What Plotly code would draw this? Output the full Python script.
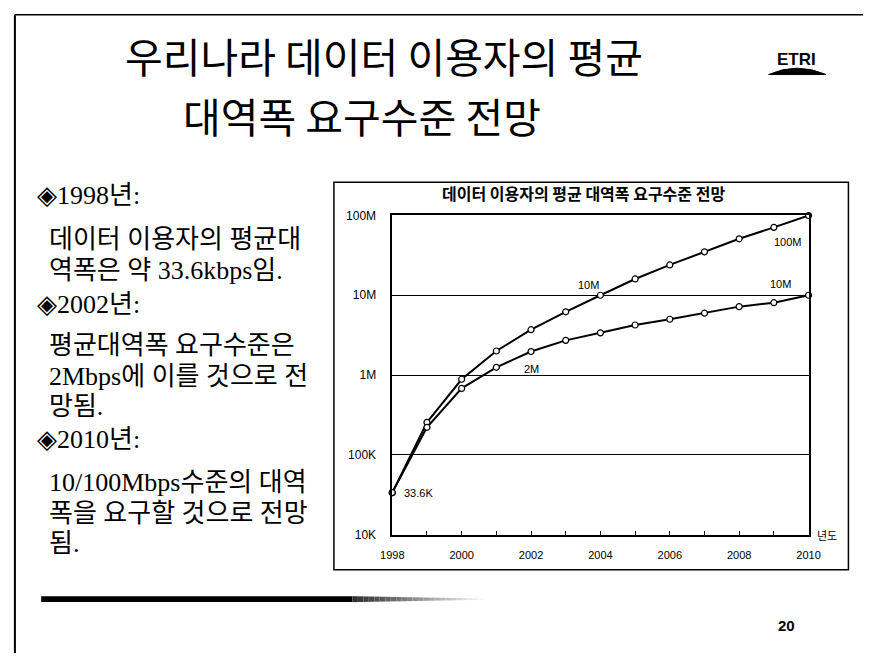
import math
import plotly.graph_objects as go

# ---- data ----
years = list(range(1998, 2011))
high_demand = [33.6e3, 255e3, 885e3, 2.0e6, 3.7e6, 6.2e6, 10e6, 16e6, 24e6, 35e6, 51e6, 71e6, 100e6]
low_demand = [33.6e3, 221e3, 680e3, 1.25e6, 1.97e6, 2.72e6, 3.38e6, 4.24e6, 5.0e6, 5.96e6, 7.2e6, 8.06e6, 10e6]
y_tickvals = [1e4, 1e5, 1e6, 1e7, 1e8]
y_ticktext = ["10K", "100K", "1M", "10M", "100M"]
x_tickvals = years
x_ticktext = [str(y) if y % 2 == 0 else "" for y in years]

point_labels = [
    (2003.65, 1.33e7, "10M"),
    (2009.2, 1.39e7, "10M"),
    (2009.4, 4.66e7, "100M"),
    (2002.0, 1.19e6, "2M"),
    (1998.75, 3.29e4, "33.6K"),
]

W, H = 875, 660
def px(x):
    return x / W
def py(y):
    return 1 - y / H

fig = go.Figure()
for vals in (high_demand, low_demand):
    fig.add_trace(go.Scatter(
        x=years, y=vals, mode="lines+markers",
        line=dict(color="black", width=2),
        marker=dict(symbol="circle", size=6, color="white",
                    line=dict(color="black", width=1.2)),
        cliponaxis=False, showlegend=False, hoverinfo="x+y"))

annotations = []
for x, y, t in point_labels:
    annotations.append(dict(x=x, y=math.log10(y), xref="x", yref="y", text=t,
                            xanchor="center", yanchor="middle", showarrow=False,
                            font=dict(family="Liberation Sans, Arial", size=11, color="black")))

def note(x, y, text, font, xanchor="center", yanchor="middle", **kw):
    d = dict(x=px(x), y=py(y), xref="paper", yref="paper", text=text,
             xanchor=xanchor, yanchor=yanchor, showarrow=False, font=font)
    d.update(kw)
    annotations.append(d)

# chart title
note(588, 190, "<b>데이터 이용자의 평균 대역폭 요구수준 전망</b>",
     dict(family="Noto Sans CJK KR", size=16, color="black"))
# x-axis unit
note(826, 539, "년도", dict(family="Noto Sans CJK KR", size=11, color="black"), xanchor="left")

# slide title (two lines)
title_font = dict(family="Noto Sans CJK KR", size=41, color="black")
note(382, 49, "우리나라 데이터 이용자의 평균", title_font)
note(360, 110, "대역폭 요구수준 전망", title_font)

# ETRI logo text
note(807, 54, "<b>ETRI</b>", dict(family="Liberation Sans", size=17, color="black"))

# left text block
body_font = dict(family="Liberation Serif, Noto Sans CJK KR", size=26, color="black")
lines = [
    (24, 193, "◈1998년:"),
    (36, 238, "데이터 이용자의 평균대"),
    (36, 269, "역폭은 약 33.6kbps임."),
    (24, 304, "◈2002년:"),
    (36, 346, "평균대역폭 요구수준은"),
    (36, 377, "2Mbps에 이를 것으로 전"),
    (36, 408, "망됨."),
    (24, 442, "◈2010년:"),
    (36, 486, "10/100Mbps수준의 대역"),
    (36, 517, "폭을 요구할 것으로 전망"),
    (36, 548, "됨."),
]
for x, y, t in lines:
    note(x, y, t, body_font, xanchor="left")

# page number
note(796, 632, "<b>20</b>", dict(family="Liberation Sans, Arial", size=15, color="black"))

shapes = []
# chart frame
shapes.append(dict(type="rect", xref="paper", yref="paper", x0=px(331), x1=px(860),
                   y0=py(575), y1=py(179), line=dict(color="black", width=1.5)))
# page border
shapes.append(dict(type="line", xref="paper", yref="paper", x0=px(3), x1=px(3),
                   y0=0, y1=py(8), line=dict(color="black", width=2)))
shapes.append(dict(type="line", xref="paper", yref="paper", x0=px(3), x1=1,
                   y0=py(8), y1=py(8), line=dict(color="black", width=1.5)))
# bottom bar with fade
shapes.append(dict(type="rect", xref="paper", yref="paper", x0=px(30), x1=px(350),
                   y0=py(608), y1=py(602), line=dict(width=0), fillcolor="black"))
n = 24
fade_len = 135
for i in range(n):
    x0 = 350 + i * (fade_len / n)
    g = int(40 + 215 * (i + 1) / (n + 1))
    shapes.append(dict(type="rect", xref="paper", yref="paper", x0=px(x0), x1=px(x0 + fade_len / n),
                       y0=py(608 - i * 0.1), y1=py(602 + i * 0.1), line=dict(width=0),
                       fillcolor=f"rgb({g},{g},{g})"))
# logo dome
shapes.append(dict(type="path", xref="paper", yref="paper",
                   path=f"M {px(778)},{py(69)} Q {px(807)},{py(56)} {px(837)},{py(69)} Z",
                   fillcolor="black", line=dict(color="black", width=1)))

fig.update_layout(
    width=W, height=H, margin=dict(l=0, r=0, t=0, b=0),
    paper_bgcolor="white", plot_bgcolor="white",
    annotations=annotations, shapes=shapes,
    xaxis=dict(domain=[px(391), px(819)], range=[1998, 2010],
               tickvals=x_tickvals, ticktext=x_ticktext,
               ticks="inside", ticklen=4, tickcolor="black", tickwidth=1,
               showline=True, linecolor="black", linewidth=1.5, mirror=True,
               showgrid=False, zeroline=False, ticklabelstandoff=9,
               tickfont=dict(family="Liberation Sans, Arial", size=11, color="black")),
    yaxis=dict(domain=[py(539), py(213)], type="log", range=[4, 8],
               tickvals=y_tickvals, ticktext=y_ticktext,
               showline=True, linecolor="black", linewidth=1.5, mirror=True,
               showgrid=True, gridcolor="black", gridwidth=1, zeroline=False,
               ticks="", ticklabelstandoff=12,
               tickfont=dict(family="Liberation Sans, Arial", size=12, color="black")),
)

fig.write_html("out.html")
